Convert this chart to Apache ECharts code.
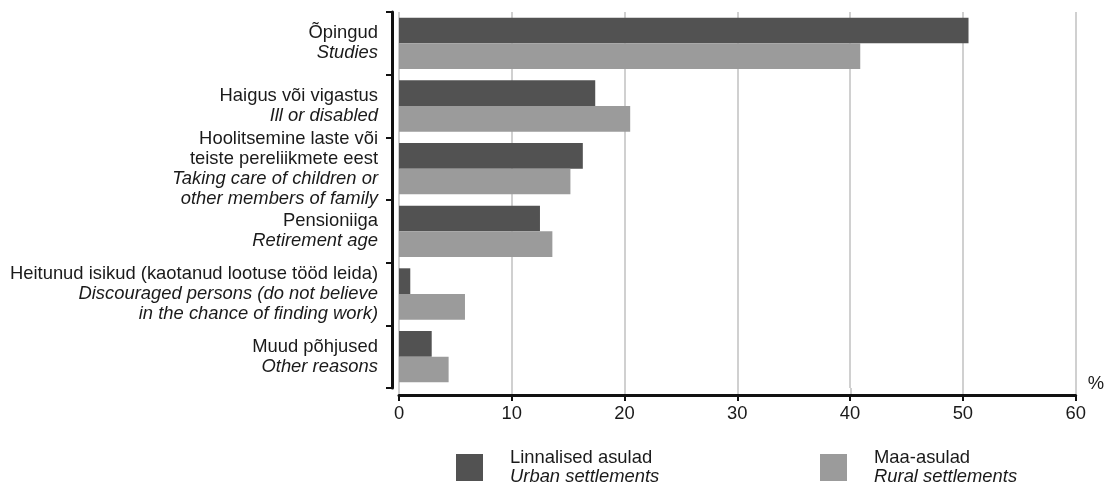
<!DOCTYPE html>
<html>
<head>
<meta charset="utf-8">
<script src="https://cdn.jsdelivr.net/npm/echarts@6/dist/echarts.min.js"></script>
<style>html,body{margin:0;padding:0;background:#fff}#c{width:1107px;height:487px}</style>
</head>
<body>
<div id="c"></div>
<script>
var categoriesEt = [
  ['Õpingud'],
  ['Haigus või vigastus'],
  ['Hoolitsemine laste või', 'teiste pereliikmete eest'],
  ['Pensioniiga'],
  ['Heitunud isikud (kaotanud lootuse tööd leida)'],
  ['Muud põhjused']
];
var categoriesEn = [
  ['Studies'],
  ['Ill or disabled'],
  ['Taking care of children or', 'other members of family'],
  ['Retirement age'],
  ['Discouraged persons (do not believe', 'in the chance of finding work)'],
  ['Other reasons']
];
var urban = [50.5, 17.4, 16.3, 12.5, 1.0, 2.9];
var rural = [40.9, 20.5, 15.2, 13.6, 5.85, 4.4];
var xTicks = [0, 10, 20, 30, 40, 50, 60];
var seriesNames = ['Linnalised asulad', 'Maa-asulad'];
var seriesNamesEn = ['Urban settlements', 'Rural settlements'];

var FONT = 'Liberation Sans, Arial, sans-serif';
var FS = 18.4;
var chart = echarts.init(document.getElementById('c'), null, {renderer: 'canvas'});
var catIdx = categoriesEt.map(function (_, i) { return String(i); });

function legendFmt(name) {
  var i = seriesNames.indexOf(name);
  return '{a|' + seriesNames[i] + '}\n{b|' + seriesNamesEn[i] + '}';
}
var legendRich = {
  a: {fontFamily: FONT, fontSize: FS, color: '#1a1a1a', lineHeight: 19, padding: [0, 0, 0, 22]},
  b: {fontFamily: FONT, fontSize: FS, fontStyle: 'italic', color: '#1a1a1a', lineHeight: 19, padding: [0, 0, 0, 22]}
};
var xMin = xTicks[0], xMax = xTicks[xTicks.length - 1];

chart.setOption({
  animation: false,
  grid: [
    {left: 399, right: 31, top: 12, bottom: 99, containLabel: false},
    {left: 399, right: 31, top: 388, bottom: 92, containLabel: false}
  ],
  legend: [
    {data: [seriesNames[0]], left: 456, top: 449, padding: 0, icon: 'rect', itemWidth: 27, itemHeight: 27,
      formatter: legendFmt, textStyle: {rich: legendRich}, selectedMode: false},
    {data: [seriesNames[1]], left: 820, top: 449, padding: 0, icon: 'rect', itemWidth: 27, itemHeight: 27,
      formatter: legendFmt, textStyle: {rich: legendRich}, selectedMode: false}
  ],
  xAxis: [{
    type: 'value', gridIndex: 0, min: xMin, max: xMax, interval: 10, offset: 7,
    name: '%', nameLocation: 'end', nameGap: 12,
    nameTextStyle: {fontFamily: FONT, fontSize: FS, color: '#1a1a1a', verticalAlign: 'bottom', padding: [0, 0, 2, 0]},
    axisLine: {show: true, onZero: false, lineStyle: {color: '#111', width: 3}},
    axisTick: {show: true, length: 6, lineStyle: {color: '#111', width: 2}},
    axisLabel: {fontFamily: FONT, fontSize: FS, color: '#1a1a1a', margin: 10},
    splitLine: {show: true, lineStyle: {color: '#c0c0c0', width: 1.5}}
  }, {
    type: 'value', gridIndex: 1, min: xMin, max: xMax, interval: 10,
    axisLine: {show: false}, axisTick: {show: false}, axisLabel: {show: false},
    splitLine: {show: true, lineStyle: {color: '#c0c0c0', width: 1.5}}
  }],
  yAxis: [{
    type: 'category', gridIndex: 0, inverse: true, data: catIdx, offset: 7,
    axisLine: {show: true, onZero: false, lineStyle: {color: '#111', width: 3}},
    axisTick: {show: true, length: 6, lineStyle: {color: '#111', width: 2}},
    splitLine: {show: false},
    axisLabel: {
      margin: 14,
      formatter: function (v) {
        var i = +v;
        var parts = categoriesEt[i].map(function (s) { return '{et|' + s + '}'; })
          .concat(categoriesEn[i].map(function (s) { return '{en|' + s + '}'; }));
        return parts.join('\n');
      },
      rich: {
        et: {fontFamily: FONT, fontSize: FS, color: '#1a1a1a', lineHeight: 20, align: 'right'},
        en: {fontFamily: FONT, fontSize: FS, fontStyle: 'italic', color: '#1a1a1a', lineHeight: 20, align: 'right'}
      }
    }
  }, {
    type: 'category', gridIndex: 1, data: [''], show: false
  }],
  series: [
    {name: seriesNames[0], type: 'bar', data: urban, barGap: '0%', barCategoryGap: '18%',
      itemStyle: {color: '#525252'}},
    {name: seriesNames[1], type: 'bar', data: rural, barGap: '0%', barCategoryGap: '18%',
      itemStyle: {color: '#9b9b9b'}}
  ]
});
</script>
</body>
</html>
